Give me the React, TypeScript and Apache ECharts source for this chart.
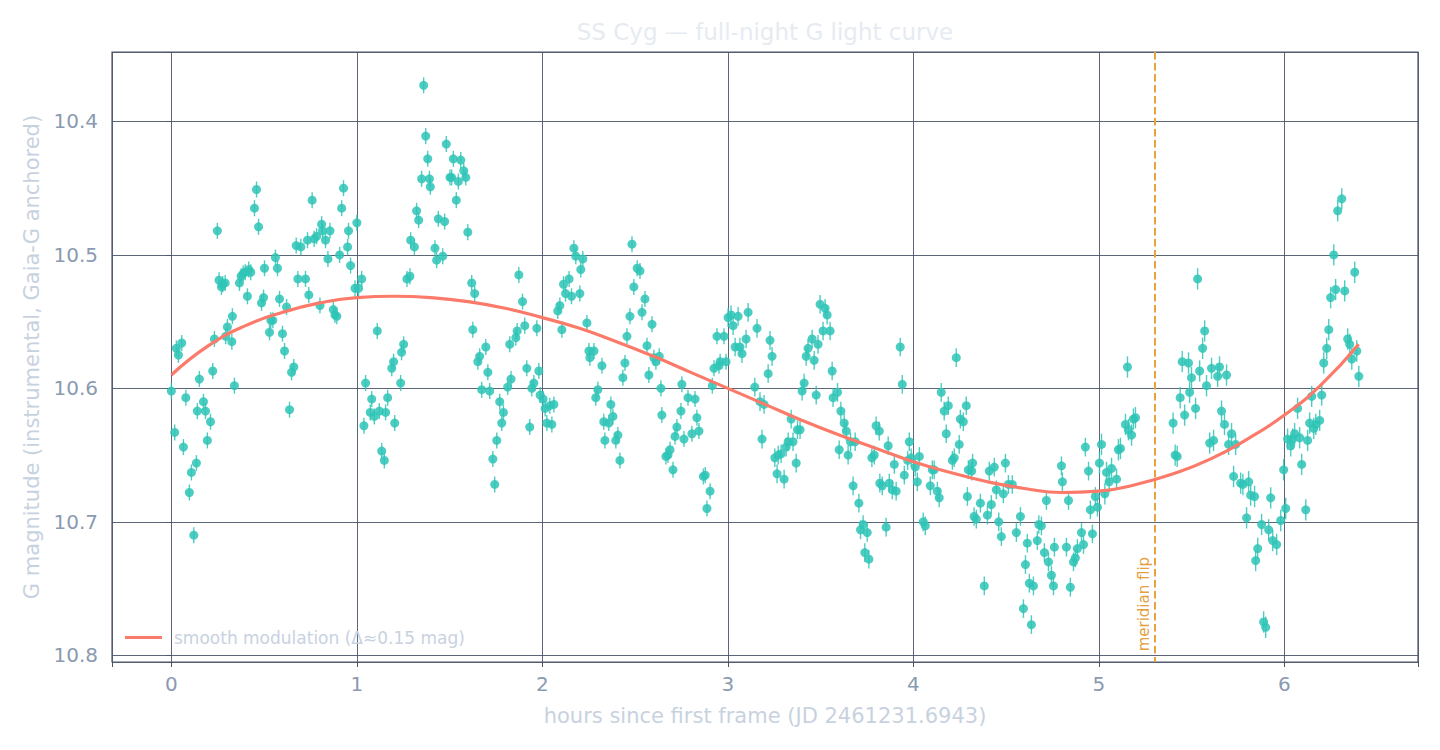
import React, { useEffect, useRef } from "react";
import * as echarts from "echarts";

// ---- observations (hours since first frame, G magnitude), by segment ----
const H1 = [0.000,0.018,0.027,0.038,0.056,0.065,0.078,0.097,0.108,0.121,0.135,0.140,0.151,0.173,0.184,0.194,0.211,0.223,0.232,0.248,0.257,0.270,0.277,0.290,0.293,0.302,0.326,0.329,0.340,0.367,0.376,0.387,0.398,0.410,0.417,0.428,0.448,0.459,0.470,0.486,0.497,0.502,0.529,0.536,0.547,0.561,0.572,0.583,0.599,0.610,0.621,0.637,0.648,0.660,0.673,0.682];
const M1 = [10.602,10.633,10.570,10.575,10.566,10.644,10.607,10.678,10.663,10.710,10.656,10.617,10.593,10.610,10.617,10.639,10.625,10.587,10.563,10.482,10.519,10.524,10.522,10.521,10.561,10.554,10.565,10.546,10.598,10.521,10.516,10.514,10.513,10.531,10.511,10.513,10.465,10.451,10.479,10.536,10.532,10.510,10.558,10.549,10.549,10.502,10.510,10.533,10.559,10.572,10.539,10.616,10.588,10.584,10.493,10.518];

const H2 = [0.698,0.723,0.734,0.741,0.759,0.770,0.783,0.801,0.810,0.815,0.831,0.844,0.855,0.873,0.882,0.892,0.907,0.918,0.928,0.950,0.955,0.966,0.990,1.000,1.009,1.026,1.038,1.047,1.072,1.080,1.094,1.110,1.121,1.134,1.148,1.155,1.166,1.188,1.198,1.204,1.236,1.241,1.252,1.270,1.286,1.290,1.310,1.322,1.333,1.349,1.360,1.371,1.382,1.391,1.396];
const M2 = [10.494,10.518,10.489,10.530,10.459,10.488,10.486,10.538,10.477,10.482,10.489,10.503,10.482,10.541,10.545,10.546,10.500,10.465,10.450,10.494,10.482,10.508,10.525,10.476,10.525,10.518,10.628,10.596,10.618,10.608,10.621,10.557,10.617,10.647,10.654,10.618,10.607,10.585,10.580,10.626,10.596,10.573,10.567,10.518,10.516,10.489,10.494,10.467,10.474,10.443,10.373,10.411,10.428,10.443,10.449];

const H3 = [1.421,1.430,1.439,1.463,1.473,1.482,1.502,1.511,1.520,1.536,1.547,1.560,1.576,1.587,1.598,1.619,1.625,1.635,1.652,1.662,1.673,1.695,1.706,1.716,1.733,1.743,1.754,1.770,1.781,1.790,1.813,1.824,1.831,1.857,1.864,1.873,1.893,1.905,1.916,1.932,1.943,1.954,1.970,1.981,1.988,2.004,2.015,2.024,2.040,2.051,2.062,2.083,2.094,2.105,2.114,2.125];
const M3 = [10.495,10.504,10.473,10.501,10.475,10.417,10.442,10.442,10.428,10.459,10.445,10.429,10.437,10.442,10.483,10.521,10.556,10.529,10.580,10.576,10.601,10.569,10.588,10.602,10.653,10.672,10.639,10.610,10.626,10.618,10.599,10.567,10.593,10.562,10.557,10.515,10.535,10.553,10.585,10.629,10.600,10.596,10.555,10.587,10.605,10.608,10.615,10.626,10.613,10.627,10.612,10.542,10.538,10.556,10.522,10.529];

const H4 = [2.144,2.157,2.170,2.180,2.202,2.207,2.218,2.240,2.251,2.256,2.278,2.288,2.299,2.321,2.331,2.337,2.358,2.369,2.380,2.396,2.407,2.418,2.434,2.445,2.456,2.472,2.483,2.493,2.511,2.526,2.537,2.553,2.564,2.574,2.591,2.601,2.612,2.630,2.639,2.644,2.666,2.677,2.688,2.704,2.715,2.725,2.747,2.752,2.763,2.785,2.806,2.823,2.833,2.844];
const M4 = [10.518,10.531,10.495,10.501,10.529,10.511,10.503,10.551,10.572,10.577,10.572,10.607,10.601,10.583,10.625,10.639,10.626,10.612,10.621,10.639,10.635,10.654,10.592,10.581,10.561,10.546,10.492,10.524,10.510,10.512,10.543,10.533,10.568,10.590,10.552,10.577,10.580,10.576,10.600,10.620,10.651,10.650,10.646,10.661,10.636,10.629,10.617,10.597,10.638,10.607,10.634,10.608,10.622,10.632];

const H5 = [2.868,2.878,2.887,2.904,2.916,2.925,2.941,2.952,2.958,2.979,2.990,3.001,3.017,3.028,3.039,3.055,3.065,3.076,3.098,3.109,3.145,3.157,3.173,3.184,3.195,3.217,3.227,3.238,3.253,3.265,3.271,3.287,3.303,3.314,3.325,3.341,3.351,3.368,3.375,3.389,3.400,3.411,3.422,3.432,3.454,3.465,3.476,3.486,3.497,3.513,3.524,3.535,3.551,3.562,3.567];
const M5 = [10.666,10.665,10.690,10.677,10.598,10.585,10.561,10.583,10.580,10.561,10.580,10.547,10.545,10.553,10.569,10.546,10.569,10.574,10.563,10.543,10.599,10.555,10.610,10.638,10.612,10.589,10.564,10.576,10.652,10.664,10.650,10.649,10.668,10.644,10.640,10.623,10.640,10.656,10.631,10.631,10.602,10.596,10.576,10.570,10.563,10.579,10.605,10.567,10.537,10.557,10.540,10.545,10.557,10.587,10.607];

const H6 = [3.591,3.600,3.609,3.627,3.638,3.648,3.661,3.675,3.686,3.706,3.715,3.729,3.738,3.751,3.760,3.776,3.789,3.799,3.816,3.819,3.832,3.853,3.864,3.870,3.886,3.897,3.907,3.929,3.940,3.951,3.969,3.978,3.988,4.010,4.021,4.032,4.053,4.064,4.091,4.102,4.112,4.129,4.139,4.150,4.166,4.177,4.188,4.210,4.220,4.231,4.247,4.253,4.269,4.285,4.291,4.296];
const M6 = [10.603,10.646,10.617,10.626,10.632,10.650,10.640,10.673,10.640,10.686,10.706,10.702,10.723,10.708,10.728,10.652,10.650,10.628,10.632,10.671,10.673,10.704,10.643,10.671,10.676,10.657,10.677,10.569,10.597,10.665,10.654,10.640,10.652,10.659,10.670,10.651,10.700,10.703,10.673,10.661,10.661,10.677,10.682,10.603,10.617,10.634,10.613,10.654,10.652,10.577,10.642,10.623,10.625,10.613,10.681,10.661];

const H7 = [4.314,4.319,4.327,4.339,4.361,4.382,4.399,4.409,4.420,4.436,4.447,4.460,4.474,4.485,4.496,4.512,4.533,4.555,4.577,4.593,4.604,4.614,4.625,4.636,4.647,4.668,4.676,4.690,4.706,4.717,4.728,4.744,4.755,4.760,4.798,4.803,4.825,4.836,4.846,4.863,4.873,4.884,4.906,4.917,4.927,4.944,4.954,4.965,4.981,4.992,5.003,5.014];
const M7 = [10.662,10.656,10.696,10.698,10.686,10.748,10.695,10.662,10.687,10.659,10.676,10.700,10.711,10.679,10.656,10.672,10.672,10.708,10.696,10.765,10.732,10.716,10.746,10.777,10.748,10.714,10.702,10.703,10.723,10.684,10.730,10.740,10.748,10.719,10.658,10.670,10.719,10.684,10.749,10.730,10.727,10.720,10.708,10.717,10.644,10.662,10.691,10.709,10.681,10.689,10.656,10.642];

const H8 = [5.032,5.041,5.055,5.068,5.095,5.105,5.116,5.143,5.154,5.159,5.176,5.186,5.197,5.400,5.411,5.422,5.438,5.449,5.462,5.483,5.489,5.499,5.521,5.532,5.543,5.559,5.570,5.580,5.597,5.607,5.618,5.640,5.650,5.661,5.677,5.688,5.699,5.715,5.726,5.737];
const M8 = [10.679,10.663,10.670,10.660,10.668,10.646,10.645,10.627,10.584,10.631,10.635,10.623,10.622,10.626,10.650,10.651,10.607,10.580,10.620,10.581,10.603,10.592,10.615,10.518,10.587,10.570,10.557,10.598,10.641,10.585,10.639,10.591,10.584,10.617,10.627,10.590,10.642,10.634,10.666,10.642];

const H9 = [5.764,5.776,5.796,5.807,5.818,5.839,5.845,5.856,5.877,5.888,5.899,5.915,5.926,5.937,5.958,5.980,5.996,6.007,6.017,6.034,6.044,6.055,6.071,6.082,6.093,6.115,6.125,6.136,6.147,6.158,6.169,6.190,6.201,6.212,6.228,6.239,6.249,6.266,6.276,6.287,6.309,6.325,6.341,6.352,6.363,6.379,6.390,6.401];
const M9 = [10.671,10.672,10.697,10.670,10.680,10.681,10.729,10.720,10.702,10.775,10.779,10.706,10.682,10.714,10.717,10.699,10.661,10.690,10.638,10.643,10.638,10.634,10.615,10.637,10.657,10.691,10.639,10.626,10.606,10.630,10.627,10.624,10.605,10.581,10.570,10.556,10.532,10.500,10.526,10.467,10.458,10.527,10.563,10.567,10.578,10.513,10.572,10.591];

// photometric error (mag) read per hour of the night
const ERR_BY_HOUR = [0.006, 0.006, 0.006, 0.007, 0.007, 0.008, 0.008];

// smooth modulation curve
const CURVE_X = [0,0.2,0.4,0.6,0.8,1.0,1.2,1.4,1.6,1.8,2.0,2.2,2.4,2.6,2.8,3.0,3.2,3.4,3.6,3.8,4.0,4.2,4.4,4.6,4.8,5.0,5.2,5.4,5.6,5.8,6.0,6.2,6.4];
const CURVE_MAG = [10.590,10.568,10.553,10.543,10.536,10.532,10.531,10.532,10.535,10.540,10.547,10.555,10.565,10.576,10.588,10.600,10.612,10.624,10.635,10.645,10.655,10.663,10.670,10.675,10.678,10.677,10.672,10.664,10.653,10.638,10.620,10.597,10.567];

const FLIP_HOUR = 5.3;
const X_RANGE = [-0.32, 6.72];
const Y_RANGE = [10.348, 10.805];

const TITLE = "SS Cyg — full-night G light curve";
const X_NAME = "hours since first frame (JD 2461231.6943)";
const Y_NAME = "G magnitude (instrumental, Gaia-G anchored)";
const CURVE_NAME = "smooth modulation (Δ≈0.15 mag)";
const FLIP_LABEL = "meridian flip";

const FONT = "DejaVu Sans";
const TEAL = "#2ec4b6";

export default function App() {
  const ref = useRef<HTMLDivElement>(null);
  useEffect(() => {
    if (!ref.current) return;
    const chart = echarts.init(ref.current, undefined, { renderer: "svg" });
    const segs = [[H1, M1], [H2, M2], [H3, M3], [H4, M4], [H5, M5], [H6, M6], [H7, M7], [H8, M8], [H9, M9]];
    const pts: number[][] = [];
    segs.forEach(([h, m]) => {
      const n = Math.min(h.length, m.length);
      for (let i = 0; i < n; i++) {
        const e = ERR_BY_HOUR[Math.min(ERR_BY_HOUR.length - 1, Math.floor(h[i]))];
        pts.push([h[i], m[i], e]);
      }
    });
    const curve = CURVE_X.map((x, i) => [x, CURVE_MAG[i]]);
    const isInt = (v: number, step: number) => Math.abs(v / step - Math.round(v / step)) < 1e-6;

    chart.setOption({
      animation: false,
      backgroundColor: "#ffffff",
      textStyle: { fontFamily: FONT },
      grid: { left: 112, top: 52, right: 22, bottom: 88, show: true, borderColor: "#4a5568", borderWidth: 1.2, backgroundColor: "transparent" },
      legend: {
        data: [CURVE_NAME],
        left: 120,
        top: 624,
        itemWidth: 37,
        itemHeight: 3,
        icon: "rect",
        textStyle: { color: "#c8d2df", fontSize: 17, fontFamily: FONT, padding: [0, 0, 0, 7] },
      },
      xAxis: {
        type: "value",
        min: X_RANGE[0],
        max: X_RANGE[1],
        splitNumber: 7,
        name: X_NAME,
        nameLocation: "middle",
        nameGap: 43,
        nameTextStyle: { color: "#c8d2df", fontSize: 21, fontFamily: FONT },
        axisLine: { show: false },
        axisTick: { show: true, length: 5, lineStyle: { color: "#4a5568" } },
        axisLabel: {
          color: "#8a9ab0",
          fontSize: 20,
          fontFamily: FONT,
          margin: 12,
          formatter: (v: number) => (isInt(v, 1) ? String(Math.round(v)) : ""),
        },
        splitLine: { show: true, lineStyle: { color: "#4a5568", width: 0.9 } },
      },
      yAxis: {
        type: "value",
        inverse: true,
        min: Y_RANGE[0],
        max: Y_RANGE[1],
        splitNumber: 5,
        name: Y_NAME,
        nameLocation: "middle",
        nameGap: 69,
        nameTextStyle: { color: "#c8d2df", fontSize: 21, fontFamily: FONT },
        axisLine: { show: false },
        axisTick: { show: true, length: 5, lineStyle: { color: "#4a5568" } },
        axisLabel: {
          color: "#8a9ab0",
          fontSize: 20,
          fontFamily: FONT,
          margin: 14,
          formatter: (v: number) => (isInt(v, 0.1) ? v.toFixed(1) : ""),
        },
        splitLine: { show: true, lineStyle: { color: "#4a5568", width: 0.9 } },
      },
      series: [
        {
          type: "custom",
          name: "errors",
          z: 2,
          data: pts,
          renderItem: (params: any, api: any) => {
            const x = api.value(0);
            const y = api.value(1);
            const e = api.value(2);
            const p1 = api.coord([x, y - e]);
            const p2 = api.coord([x, y + e]);
            return {
              type: "line",
              shape: { x1: p1[0], y1: p1[1], x2: p2[0], y2: p2[1] },
              style: { stroke: TEAL, lineWidth: 1.4, opacity: 0.85 },
            };
          },
        },
        {
          type: "scatter",
          name: "obs",
          z: 3,
          data: pts.map((p) => [p[0], p[1]]),
          symbol: "circle",
          symbolSize: 9,
          itemStyle: { color: TEAL, opacity: 0.85 },
        },
        {
          type: "line",
          name: CURVE_NAME,
          z: 4,
          data: curve,
          smooth: true,
          showSymbol: false,
          symbol: "none",
          lineStyle: { color: "#fb7a6a", width: 3.2 },
          itemStyle: { color: "#fb7a6a" },
          markLine: {
            silent: true,
            symbol: "none",
            label: { show: false },
            lineStyle: { color: "#e8a33d", width: 2, type: [7.5, 3.5] },
            data: [{ xAxis: FLIP_HOUR }],
          },
        },
      ],
    });

    const p = chart.convertToPixel({ xAxisIndex: 0, yAxisIndex: 0 }, [FLIP_HOUR, 10.797]) as number[];
    chart.setOption({
      graphic: [
        {
          type: "text",
          x: 765,
          y: 32,
          style: { text: TITLE, fill: "#e6ebf2", fontSize: 23, fontFamily: FONT, textAlign: "center", textVerticalAlign: "middle" },
        },
        {
          type: "text",
          x: p[0] - 3,
          y: p[1],
          rotation: Math.PI / 2,
          style: { text: FLIP_LABEL, fill: "#e3a03e", fontSize: 15, fontFamily: FONT, textAlign: "left", textVerticalAlign: "bottom" },
        },
      ],
    });

    return () => chart.dispose();
  }, []);
  return <div ref={ref} style={{ position: "absolute", left: 0, top: 0, width: 1440, height: 750, background: "#fff" }} />;
}
